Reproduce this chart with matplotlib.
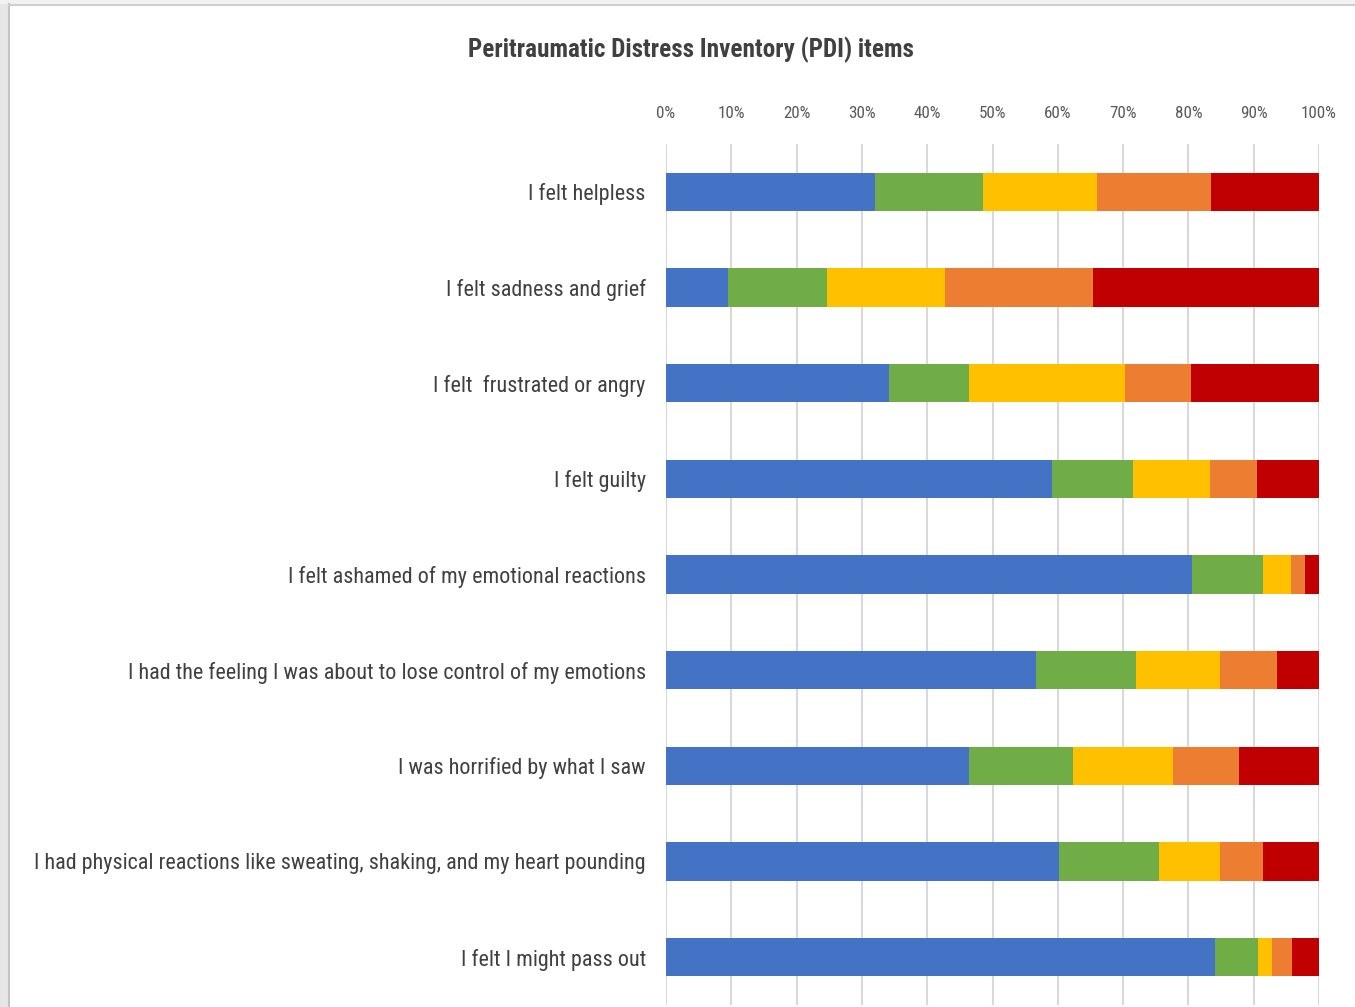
import matplotlib
matplotlib.use("Agg")
import matplotlib.pyplot as plt
from matplotlib.patches import Rectangle
from matplotlib.lines import Line2D
from matplotlib import font_manager as fm
import numpy as np

categories = [
    "I felt helpless",
    "I felt sadness and grief",
    "I felt  frustrated or angry",
    "I felt guilty",
    "I felt ashamed of my emotional reactions",
    "I had the feeling I was about to lose control of my emotions",
    "I was horrified by what I saw",
    "I had physical reactions like sweating, shaking, and my heart pounding",
    "I felt I might pass out",
]
s1 = [32.0, 9.5, 34.1, 59.1, 80.6, 56.7, 46.4, 60.2, 84.1]
s2 = [16.5, 15.2, 12.3, 12.4, 10.8, 15.3, 15.9, 15.3, 6.6]
s3 = [17.5, 18.0, 23.9, 11.8, 4.3, 12.8, 15.3, 9.3, 2.1]
s4 = [17.5, 22.7, 10.1, 7.2, 2.2, 8.8, 10.1, 6.6, 3.1]
s5 = [16.5, 34.6, 19.6, 9.5, 2.1, 6.4, 12.3, 8.6, 4.1]
series = [s1, s2, s3, s4, s5]
colors = ["#4472C4", "#70AD47", "#FFC000", "#ED7D31", "#C00000"]
xticks = [0, 10, 20, 30, 40, 50, 60, 70, 80, 90, 100]
xticklabels = [f"{t}%" for t in xticks]
title = "Peritraumatic Distress Inventory (PDI) items"

# pick the narrowest available sans font
names = {f.name for f in fm.fontManager.ttflist}
cond = {(f.name, f.stretch) for f in fm.fontManager.ttflist}
FONT = ["DejaVu Sans"]
STRETCH = "normal"
for cand in ["Liberation Sans Narrow", "Roboto Condensed", "Open Sans Condensed",
             "Noto Sans Condensed", "Arial Narrow"]:
    if cand in names:
        FONT = [cand, "DejaVu Sans"]
        break
else:
    found = False
    for nm in ["Roboto", "Noto Sans", "Open Sans", "DejaVu Sans"]:
        for st in ["condensed", "semi-condensed", "extra-condensed"]:
            if (nm, st) in cond:
                FONT = [nm, "DejaVu Sans"]
                STRETCH = st
                found = True
                break
        if found:
            break
    if not found:
        for nm in ["Roboto", "Liberation Sans", "Lato"]:
            if nm in names:
                FONT = [nm, "DejaVu Sans"]
                break

fig = plt.figure(figsize=(13.55, 10.07), dpi=100)
fig.patch.set_facecolor("white")

# screenshot-like frame
fig.add_artist(Rectangle((0, 0), 8 / 1355, 1, transform=fig.transFigure,
                         facecolor="#e6e6e6", edgecolor="none", zorder=0))
fig.add_artist(Rectangle((0, 1 - 4 / 1007), 1, 4 / 1007, transform=fig.transFigure,
                         facecolor="#f2f2f2", edgecolor="none", zorder=0))
fig.add_artist(Line2D([8.5 / 1355, 8.5 / 1355], [0, 1 - 4 / 1007], transform=fig.transFigure,
                      color="#c4c4c4", lw=1.5))
fig.add_artist(Line2D([8.5 / 1355, 1], [1 - 4.5 / 1007, 1 - 4.5 / 1007], transform=fig.transFigure,
                      color="#cfcfcf", lw=1.5))

ax = fig.add_axes([666 / 1355, 2 / 1007, (1319 - 666) / 1355, (1005 - 144) / 1007])
y = np.arange(len(categories))
left = np.zeros(len(categories))
for vals, c in zip(series, colors):
    vals = np.array(vals)
    ax.barh(y, vals, left=left, height=0.4, color=c, edgecolor="none", zorder=3)
    left = left + vals

ax.set_xlim(0, 100)
ax.set_ylim(len(categories) - 0.5, -0.5)
ax.set_yticks(y)
ax.set_xticks(xticks)
ax.xaxis.tick_top()
ax.grid(axis="x", color="#d9d9d9", lw=1.5, zorder=0)
for sp in ax.spines.values():
    sp.set_visible(False)

renderer = fig.canvas.get_renderer()


def fit_size(text, target_px, base=20.0, weight="normal"):
    t = fig.text(0, 0, text, family=FONT, fontstretch=STRETCH, fontsize=base, fontweight=weight)
    w = t.get_window_extent(renderer).width
    t.remove()
    return base * target_px / w


lab_size = min(19.0, fit_size(categories[7], 613))
tick_size = min(13.0, fit_size("100%", 36))
title_size = min(20.0, fit_size(title, 444, weight="bold"))

ax.set_yticklabels(categories, family=FONT, fontstretch=STRETCH, fontsize=lab_size, color="#404040")
ax.set_xticklabels(xticklabels, family=FONT, fontstretch=STRETCH, fontsize=tick_size, color="#595959")
ax.tick_params(axis="x", length=0, pad=16.5)
ax.tick_params(axis="y", length=0, pad=14.5)

fig.text(691 / 1355, 1 - 50 / 1007, title, ha="center", va="center",
         family=FONT, fontstretch=STRETCH, fontsize=title_size, color="#404040",
         fontweight="bold")

fig.savefig("out.png", dpi=100)
